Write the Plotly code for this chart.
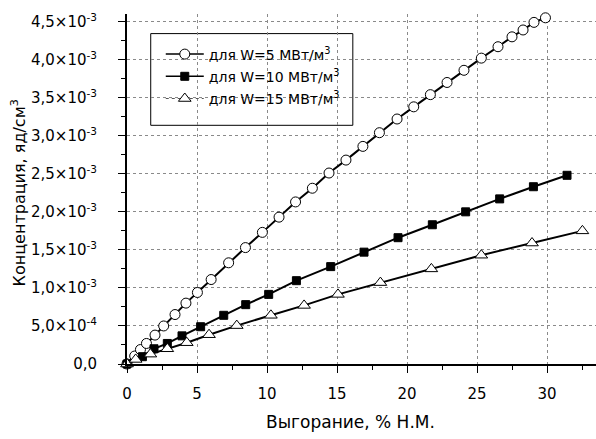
import plotly.graph_objects as go

# Burnup, % H.M. and nuclide concentration (units of 1e-3 nuclei/cm^3) for three power densities
burnup_w5 = [0, 0.55, 0.96, 1.39, 2.0, 2.62, 3.43, 4.21, 5.03, 6.01, 7.26, 8.46, 9.67, 10.86,
             12.04, 13.24, 14.43, 15.64, 16.85, 18.03, 19.29, 20.48, 21.67, 22.86, 24.07,
             25.31, 26.5, 27.5, 28.29, 29.07, 29.89]
conc_w5 = [0, 0.105, 0.19, 0.27, 0.38, 0.50, 0.65, 0.80, 0.94, 1.11, 1.33, 1.53, 1.73, 1.93,
           2.13, 2.31, 2.51, 2.68, 2.86, 3.04, 3.22, 3.38, 3.54, 3.70, 3.86, 4.02, 4.17,
           4.30, 4.39, 4.49, 4.55]

burnup_w10 = [0, 1.1, 1.93, 2.88, 3.93, 5.26, 6.91, 8.48, 10.12, 12.1, 14.55, 16.93, 19.36,
              21.81, 24.19, 26.62, 29.03, 31.43]
conc_w10 = [0, 0.096, 0.2, 0.27, 0.37, 0.49, 0.64, 0.78, 0.915, 1.095, 1.28, 1.47, 1.66,
            1.83, 2.00, 2.17, 2.33, 2.48]

burnup_w15 = [0, 0.62, 1.67, 2.88, 4.27, 5.86, 7.84, 10.28, 12.65, 15.07, 18.1, 21.74, 25.31,
              28.93, 32.53]
conc_w15 = [0, 0.06, 0.13, 0.20, 0.28, 0.385, 0.505, 0.64, 0.77, 0.915, 1.07, 1.25, 1.43,
            1.59, 1.75]

legend_names = ["для W=5 МВт/м<sup>3</sup>", "для W=10 МВт/м<sup>3</sup>", "для W=15 МВт/м<sup>3</sup>"]

x_tick_vals = [0, 5, 10, 15, 20, 25, 30]
y_tick_vals = [0, 0.5e-3, 1.0e-3, 1.5e-3, 2.0e-3, 2.5e-3, 3.0e-3, 3.5e-3, 4.0e-3, 4.5e-3]
y_tick_text = ["0,0", "5,0×10<sup>-4</sup>", "1,0×10<sup>-3</sup>", "1,5×10<sup>-3</sup>",
               "2,0×10<sup>-3</sup>", "2,5×10<sup>-3</sup>", "3,0×10<sup>-3</sup>",
               "3,5×10<sup>-3</sup>", "4,0×10<sup>-3</sup>", "4,5×10<sup>-3</sup>"]

FONT = "DejaVu Sans"

series = [
    (burnup_w5, conc_w5, dict(symbol="circle", size=10, color="white",
                              line=dict(color="black", width=1)), "solid"),
    (burnup_w10, conc_w10, dict(symbol="square", size=8, color="black",
                                line=dict(color="black", width=1)), "solid"),
    (burnup_w15, conc_w15, dict(symbol="triangle-up", size=11, color="white",
                                line=dict(color="black", width=1)), "dot"),
]

fig = go.Figure()
for i, (xs, ys, marker, legend_dash) in enumerate(series):
    fig.add_trace(go.Scatter(
        x=xs, y=[v * 1e-3 for v in ys], mode="lines+markers",
        line=dict(color="black", width=2), marker=marker,
        cliponaxis=False, showlegend=False,
    ))
    # legend sample
    fig.add_trace(go.Scatter(
        x=[None], y=[None], mode="lines+markers", name=legend_names[i],
        line=dict(color="black" if legend_dash == "solid" else "#555555",
                  width=1.5 if legend_dash == "solid" else 1, dash=legend_dash),
        marker=marker, legendgroup=f"g{i}",
    ))

axis_common = dict(
    ticks="outside", ticklen=7, tickwidth=1, tickcolor="black",
    showline=True, linecolor="black", linewidth=2,
    showgrid=True, gridcolor="#8a8a8a", gridwidth=1, griddash="dot",
    zeroline=False, tickfont=dict(family=FONT, size=15),
)

fig.update_layout(
    width=596, height=439,
    margin=dict(l=127, r=0, t=14, b=75),
    paper_bgcolor="white", plot_bgcolor="white",
    font=dict(family=FONT, size=14, color="black"),
    showlegend=True,
    legend=dict(
        x=0.072, y=0.93, xanchor="left", yanchor="top",
        bgcolor="rgba(0,0,0,0)", borderwidth=0,
        font=dict(family=FONT, size=14, color="black"),
        tracegroupgap=1, itemwidth=38,
    ),
    # legend frame
    shapes=[dict(type="rect", xref="paper", yref="paper",
                 x0=0.0506, x1=0.4815, y0=0.682, y1=0.944,
                 line=dict(color="black", width=1), fillcolor="white", layer="between")],
    xaxis=dict(
        range=[0, 33.5], tickvals=x_tick_vals, ticklabelstandoff=8,
        minor=dict(dtick=2.5, tick0=0, ticks="outside", ticklen=4, tickcolor="black", showgrid=False),
        **axis_common,
    ),
    yaxis=dict(
        range=[0, 4.6e-3], tickvals=y_tick_vals, ticktext=y_tick_text, ticklabelstandoff=18,
        minor=dict(dtick=0.25e-3, tick0=0, ticks="outside", ticklen=4, tickcolor="black", showgrid=False),
        **axis_common,
    ),
    annotations=[
        dict(text="Выгорание, % Н.М.", xref="paper", yref="paper", x=0.477, y=-0.165,
             xanchor="center", yanchor="middle", showarrow=False,
             font=dict(family=FONT, size=17)),
        dict(text="Концентрация, яд/см<sup>3</sup>", xref="paper", yref="paper",
             x=-0.232, y=0.488, xanchor="center", yanchor="middle", textangle=-90,
             showarrow=False, font=dict(family=FONT, size=16)),
    ],
)

fig.write_html("out.html")
